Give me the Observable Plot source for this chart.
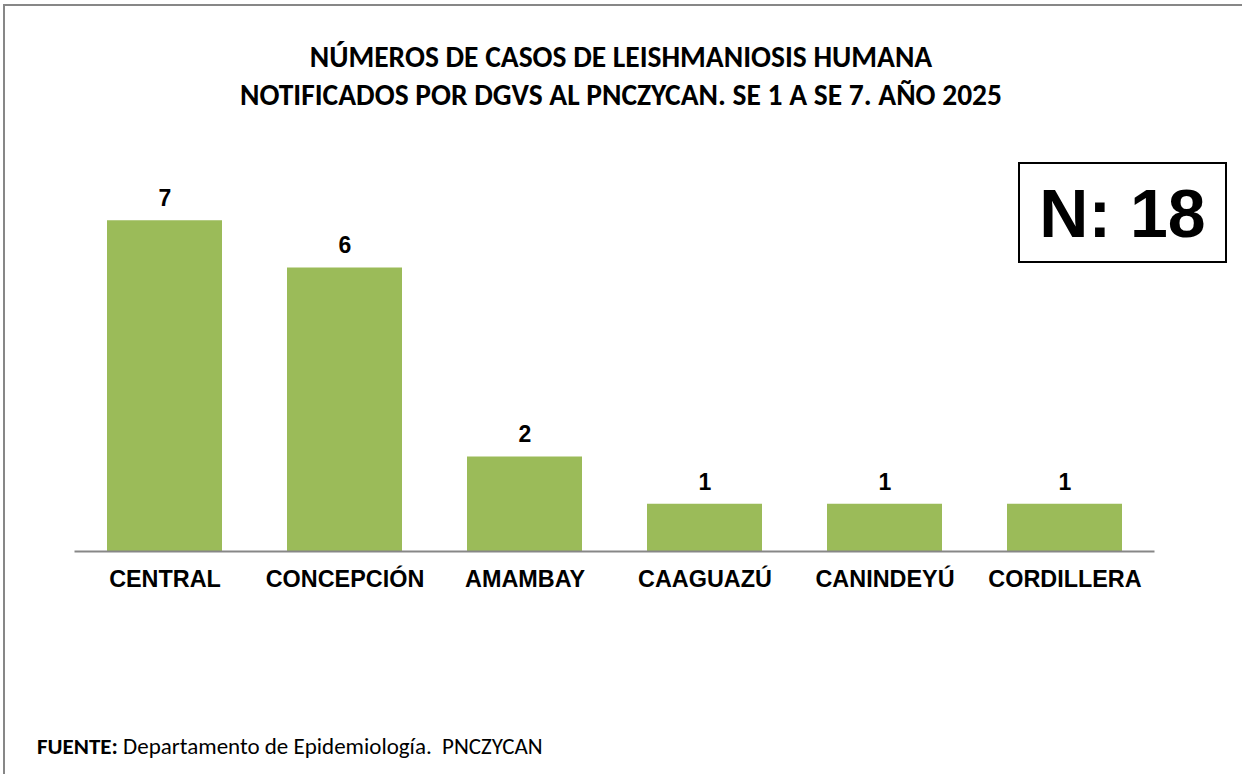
<!DOCTYPE html>
<html>
<head>
<meta charset="utf-8">
<script src="https://cdn.jsdelivr.net/npm/d3@7"></script>
<script src="https://cdn.jsdelivr.net/npm/@observablehq/plot@0.6"></script>
<style>
  html, body { margin: 0; padding: 0; background: #fff; }
  #wrap { position: relative; width: 1242px; height: 774px; overflow: hidden; }
  #frame { position: absolute; left: 3px; top: 4px; width: 1300px; height: 900px; border-left: 2px solid #878787; border-top: 2px solid #878787; box-sizing: border-box; }
  #title { position: absolute; left: 0; width: 1242px; top: 38px; text-align: center; font-family: Carlito, "Liberation Sans Narrow", "Open Sans", sans-serif; font-weight: bold; font-size: 29.5px; line-height: 38px; color: #000; white-space: nowrap; }
  #nbox { position: absolute; left: 1018px; top: 162px; width: 209px; height: 101px; border: 2px solid #000; box-sizing: border-box; display: flex; align-items: center; justify-content: center; font-family: "Liberation Sans", Arial, sans-serif; font-weight: bold; font-size: 68px; color: #000; }
  #footer { position: absolute; left: 37px; top: 732px; font-family: Carlito, "Open Sans", sans-serif; font-size: 23px; line-height: 28px; color: #000; white-space: nowrap; }
  #chart { position: absolute; left: 0; top: 0; }
</style>
</head>
<body>
<div id="wrap">
  <div id="chart"></div>
  <div id="frame"></div>
  <div id="title">NÚMEROS DE CASOS DE LEISHMANIOSIS HUMANA<br>NOTIFICADOS POR DGVS AL PNCZYCAN. SE 1 A SE 7. AÑO 2025</div>
  <div id="nbox">N: 18</div>
  <div id="footer"><b>FUENTE:</b> Departamento de Epidemiología.&nbsp; PNCZYCAN</div>
</div>
<script>
const departamentos = ["CENTRAL", "CONCEPCIÓN", "AMAMBAY", "CAAGUAZÚ", "CANINDEYÚ", "CORDILLERA"];
const casos = [7, 6, 2, 1, 1, 1];

const data = departamentos.map((d, i) => ({depto: d, casos: casos[i]}));

const chart = Plot.plot({
  width: 1242,
  height: 774,
  marginTop: 173,
  marginBottom: 223,
  marginLeft: 74.5,
  marginRight: 87.5,
  style: {background: "transparent", fontFamily: "'Liberation Sans', Arial, sans-serif"},
  x: {domain: departamentos, paddingInner: 0.36, paddingOuter: 0.18, label: null},
  y: {domain: [0, 8], axis: null},
  marks: [
    Plot.barY(data, {x: "depto", y: "casos", fill: "#9BBB59"}),
    Plot.ruleY([0], {stroke: "#878787", strokeWidth: 2}),
    Plot.axisX({tickSize: 0, tickPadding: 19, fontSize: 23.4, fontWeight: "bold", fill: "#000", label: null}),
    Plot.text(data, {x: "depto", y: "casos", text: d => String(d.casos), dy: -22, fontSize: 23, fontWeight: "bold", fill: "#000"})
  ]
});
document.getElementById("chart").appendChild(chart);
</script>
</body>
</html>
